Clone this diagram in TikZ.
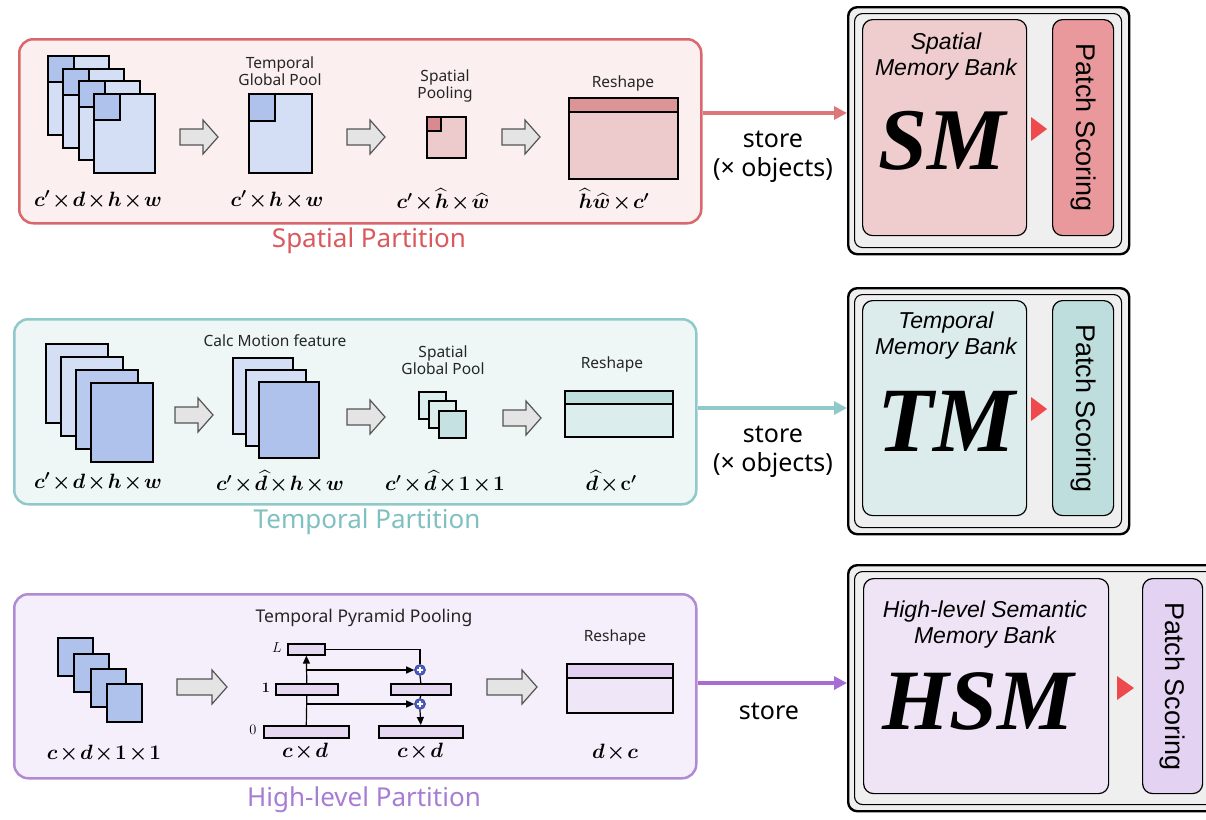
\documentclass[tikz,border=0pt]{standalone}
\usepackage{amsmath,bm}
\usepackage{fontspec}
\setmainfont{Noto Sans}
\newfontfamily\lsans{Liberation Sans}
\newfontfamily\tnr{Liberation Serif}
\newcommand\tightmu{\medmuskip=1.5mu\relax}
\usetikzlibrary{arrows.meta}
\definecolor{redB}{HTML}{D9676B}
\definecolor{redF}{HTML}{FBEFEF}
\definecolor{redT}{HTML}{D9595D}
\definecolor{pinkBody}{HTML}{EDCBCC}
\definecolor{pinkBand}{HTML}{DC9597}
\definecolor{pinkSq}{HTML}{D88A8C}
\definecolor{blueL}{HTML}{D4DEF4}
\definecolor{blueD}{HTML}{AEC2EC}
\definecolor{tealB}{HTML}{90C9C9}
\definecolor{tealF}{HTML}{EEF6F6}
\definecolor{tealT}{HTML}{7FC0C0}
\definecolor{tealBody}{HTML}{DCEDED}
\definecolor{tealBand}{HTML}{BFDEDE}
\definecolor{tealSq}{HTML}{C5E1E1}
\definecolor{purB}{HTML}{B08BD3}
\definecolor{purF}{HTML}{F4EFFA}
\definecolor{purT}{HTML}{A77CD3}
\definecolor{purBox}{HTML}{E6D8F0}
\definecolor{purBand}{HTML}{E2D0F0}
\definecolor{purBody}{HTML}{EFE6F7}
\definecolor{purArr}{HTML}{A66DD4}
\definecolor{arrG}{HTML}{E4E4E4}
\definecolor{arrD}{HTML}{555555}
\definecolor{bankG}{HTML}{EFEFEF}
\definecolor{smF}{HTML}{EFCDCE}
\definecolor{smP}{HTML}{E9999B}
\definecolor{tmF}{HTML}{DCECEC}
\definecolor{tmP}{HTML}{BEDDDD}
\definecolor{hsF}{HTML}{EFE4F6}
\definecolor{hsP}{HTML}{E3D2F1}
\definecolor{triR}{HTML}{EE4A4E}
\definecolor{plusB}{HTML}{4A5BC8}
\begin{document}
\begin{tikzpicture}[x=1pt,y=-1pt,
  panel/.style={rectangle, rounded corners=14pt, line width=2.5pt, anchor=north west, inner sep=0pt},
  ptitle/.style={font=\fontsize{26}{30}\selectfont},
  fr/.style={rectangle, draw=black, line width=2.4pt, anchor=north west, inner sep=0pt},
  pbox/.style={rectangle, draw=black, line width=1.6pt, fill=purBox, anchor=north west, inner sep=0pt},
  lbl/.style={font=\fontsize{15.5}{17}\selectfont, align=center, text=black!85},
  dim/.style={font=\fontsize{19.5}{22}\selectfont\boldmath\tightmu, inner sep=1pt},
  storet/.style={font=\fontsize{25}{29}\selectfont, align=center},
  bankO/.style={rectangle, rounded corners=9pt, draw=black, line width=2.4pt, fill=bankG, anchor=north west, inner sep=0pt},
  bankI/.style={rectangle, rounded corners=8pt, draw=black, line width=1.1pt, anchor=north west, inner sep=0pt},
  memb/.style={rectangle, rounded corners=10pt, draw=black, line width=1.2pt, anchor=north west, inner sep=0pt},
  banklbl/.style={font=\lsans\itshape\fontsize{23}{26}\selectfont, align=center},
  big/.style={font=\tnr\bfseries\itshape\fontsize{88}{88}\selectfont},
  patcht/.style={rotate=-90, font=\lsans\fontsize{27}{30}\selectfont},
  plusc/.style={circle, fill=plusB, draw=plusB!70!black, line width=0.6pt, inner sep=0pt, minimum size=11pt,
    path picture={\draw[white,line width=1.4pt] ([xshift=-3.2pt]path picture bounding box.center) -- ([xshift=3.2pt]path picture bounding box.center) ([yshift=-3.2pt]path picture bounding box.center) -- ([yshift=3.2pt]path picture bounding box.center);}},
  ptip/.style={-{Triangle[length=8pt,width=7pt]}, line width=1.2pt},
  pics/blkarr/.style={code={\draw[fill=arrG, draw=arrD, line width=1.2pt, line join=miter] (0,-8) -- (#1-15,-8) -- (#1-15,-17) -- (#1,0) -- (#1-15,17) -- (#1-15,8) -- (0,8) -- cycle;}}
]
\useasboundingbox (0,0) rectangle (1206,819);
\clip (0,0) rectangle (1206,819);

% ================= TOP: Spatial =================
\node[panel, draw=redB, fill=redF, minimum width=682, minimum height=184] (pS) at (18,38) {};
\node[ptitle, text=redT] (tSp) at (369,241) {Spatial Partition};
\foreach \i/\x/\y in {1/47/55, 2/62/68, 3/78/80, 4/93/93} {
  \node[fr, fill=blueL, minimum width=61, minimum height=79] (sf\i) at (\x,\y) {};
  \node[fr, fill=blueD, minimum width=26, minimum height=26] (sq\i) at (\x,\y) {};
}
\pic at (180,137) {blkarr=38};
\node[lbl] (lTGP) at (280,71) {Temporal\\Global Pool};
\node[fr, fill=blueL, minimum width=63, minimum height=79] (tgp) at (248,93) {};
\node[fr, fill=blueD, minimum width=26, minimum height=27] (tgpq) at (248,93) {};
\pic at (347,137) {blkarr=38};
\node[lbl] (lSP) at (445,86) {Spatial\\Pooling};
\node[fr, fill=pinkBody, minimum width=39, minimum height=41] (sp) at (426,116) {};
\node[fr, fill=pinkSq, minimum width=14, minimum height=14, line width=1.8pt] (spq) at (426,116) {};
\pic at (502,137) {blkarr=38};
\node[lbl] (lRS1) at (623,83) {Reshape};
\node[fr, fill=pinkBody, minimum width=109, minimum height=81] (rs1) at (568,97) {};
\node[fr, fill=pinkBand, minimum width=109, minimum height=14] (rs1b) at (568,97) {};
\node[dim] (d11) at (98,200) {$c'\times d\times h\times w$};
\node[dim] (d12) at (277,200) {$c'\times h\times w$};
\node[dim] (d13) at (443,200) {$c'\times \widehat{h}\times \widehat{w}$};
\node[dim] (d14) at (614,200) {$\widehat{h}\widehat{w}\times c'$};

% bank S
\node[bankO, minimum width=281, minimum height=247] (bS) at (847,6) {};
\node[bankI, minimum width=267, minimum height=234] (bSi) at (854,13) {};
\node[memb, fill=smF, minimum width=164, minimum height=216] (mS) at (862,19) {};
\node[memb, fill=smP, minimum width=61, minimum height=216] (psS) at (1052,19) {};
\node[banklbl] (blS) at (946,57) {Spatial\\Memory Bank};
\node[big] (SM) at (942,141) {SM};
\node[patcht] (ptS) at (psS.center) {Patch Scoring};
\fill[triR] (1031,117) -- (1047,129) -- (1031,141) -- cycle;
\coordinate (aS1) at (pS.east |- 0,113);
\coordinate (aS2) at (bS.west |- 0,113);
\draw[redB!90!white, line width=4pt, -{Triangle[length=13pt,width=13pt]}] (aS1) -- (aS2);
\node[storet] (stS) at (773,157) {store\\(\texttimes{} objects)};

% ================= MIDDLE: Temporal =================
\node[panel, draw=tealB, fill=tealF, minimum width=682, minimum height=185] (pT) at (13,318) {};
\node[ptitle, text=tealT] (tTp) at (367,522) {Temporal Partition};
\foreach \i/\x/\y/\c in {1/45/343/blueL, 2/60/356/blueL, 3/75/369/blueD!70!blueL, 4/90/382/blueD} {
  \node[fr, fill=\c, minimum width=62, minimum height=79] (tf\i) at (\x,\y) {};
}
\pic at (175,415) {blkarr=38};
\node[lbl] (lCM) at (275,341) {Calc Motion feature};
\foreach \i/\x/\y/\c in {1/232/357/blueL, 2/245/369/blueL, 3/258/381/blueD} {
  \node[fr, fill=\c, minimum width=60, minimum height=76] (cm\i) at (\x,\y) {};
}
\pic at (347,417) {blkarr=38};
\node[lbl] (lSG) at (443,360) {Spatial\\Global Pool};
\foreach \i/\x/\y/\c in {1/418/391/tealBody, 2/428/400/tealBody, 3/438/410/tealSq} {
  \node[fr, fill=\c, minimum width=27, minimum height=27, line width=2pt] (sg\i) at (\x,\y) {};
}
\pic at (503,418) {blkarr=38};
\node[lbl] (lRS2) at (612,364) {Reshape};
\node[fr, fill=tealBody, minimum width=108, minimum height=46] (rs2) at (564,390) {};
\node[fr, fill=tealBand, minimum width=108, minimum height=13] (rs2b) at (564,390) {};
\node[dim] (d21) at (98,482) {$c'\times d\times h\times w$};
\node[dim] (d22) at (280,482) {$c'\times \widehat{d}\times h\times w$};
\node[dim] (d23) at (445,482) {$c'\times \widehat{d}\times 1\times 1$};
\node[dim] (d24) at (611,482) {$\widehat{d}\times \mathbf{c}'$};

% bank T
\node[bankO, minimum width=281, minimum height=246] (bT) at (847,287) {};
\node[bankI, minimum width=267, minimum height=233] (bTi) at (854,294) {};
\node[memb, fill=tmF, minimum width=164, minimum height=215] (mT) at (862,300) {};
\node[memb, fill=tmP, minimum width=61, minimum height=215] (psT) at (1052,300) {};
\node[banklbl] (blT) at (946,336) {Temporal\\Memory Bank};
\node[big, font=\tnr\bfseries\itshape\fontsize{92}{92}\selectfont] (TM) at (946,421) {TM};
\node[patcht] (ptT) at (psT.center) {Patch Scoring};
\fill[triR] (1031,397) -- (1047,409) -- (1031,421) -- cycle;
\coordinate (aT1) at (pT.east |- 0,408);
\coordinate (aT2) at (bT.west |- 0,408);
\draw[tealB, line width=4pt, -{Triangle[length=13pt,width=13pt]}] (aT1) -- (aT2);
\node[storet] (stT) at (773,452) {store\\(\texttimes{} objects)};

% ================= BOTTOM: High-level =================
\node[panel, draw=purB, fill=purF, minimum width=682, minimum height=184] (pH) at (13,593) {};
\node[ptitle, text=purT] (tHp) at (364,800) {High-level Partition};
\foreach \i/\x/\y in {1/57/637, 2/73/653, 3/90/668, 4/106/683} {
  \node[fr, fill=blueD, minimum width=35, minimum height=38] (hf\i) at (\x,\y) {};
}
\node[dim] (d31) at (104,754) {$c\times d\times 1\times 1$};
\pic at (177,687) {blkarr=50};
\node[lbl, font=\fontsize{17.5}{20}\selectfont] (lTPP) at (364,618) {Temporal Pyramid Pooling};
\node[pbox, minimum width=37, minimum height=11] (pL) at (287,643) {};
\node[pbox, minimum width=62, minimum height=11] (p1) at (275,683) {};
\node[pbox, minimum width=85, minimum height=12] (p0) at (263,725) {};
\node[pbox, minimum width=60, minimum height=11] (q1) at (390,683) {};
\node[pbox, minimum width=84, minimum height=12] (q0) at (378,725) {};
\node[plusc] (c1) at (420,670) {};
\node[plusc] (c2) at (420,704) {};
\node[font=\fontsize{15}{17}\selectfont] (nL) at (277,648) {$L$};
\node[font=\fontsize{15}{17}\selectfont\boldmath] (n1) at (266,688) {$1$};
\node[font=\fontsize{15}{17}\selectfont] (n0) at (253,730) {$0$};
\draw[line width=1.2pt] (p0.north) -- (p1.south);
\draw[ptip] (p1.north) -- (pL.south);
\draw[ptip] (pL.south |- c1) -- (c1.west);
\draw[ptip] (p1.south |- c2) -- (c2.west);
\draw[line width=1.2pt] (pL.east) -| (c1.north);
\draw[line width=1.2pt] (c1.south) -- (q1.north);
\draw[line width=1.2pt] (q1.south) -- (c2.north);
\draw[ptip] (c2.south) -- (q0.north);
\node[dim] (d32) at (305,752) {$c\times d$};
\node[dim] (d33) at (420,752) {$c\times d$};
\pic at (487,687) {blkarr=50};
\node[lbl] (lRS3) at (615,637) {Reshape};
\node[fr, fill=purBody, minimum width=106, minimum height=49] (rs3) at (566,663) {};
\node[fr, fill=purBand, minimum width=106, minimum height=14] (rs3b) at (566,663) {};
\node[dim] (d34) at (615,753) {$d\times c$};

% bank H
\node[bankO, minimum width=370, minimum height=246] (bH) at (847,564) {};
\node[bankI, minimum width=360, minimum height=233] (bHi) at (854,571) {};
\node[memb, fill=hsF, minimum width=245, minimum height=215] (mH) at (863,578) {};
\node[memb, fill=hsP, minimum width=60, minimum height=215] (psH) at (1142,578) {};
\node[banklbl] (blH) at (985,625) {High-level Semantic\\Memory Bank};
\node[big, font=\tnr\bfseries\itshape\fontsize{86}{86}\selectfont] (HSM) at (978,701) {HSM};
\node[patcht] (ptH) at (psH.center) {Patch Scoring};
\fill[triR] (1117,676) -- (1134,688) -- (1117,700) -- cycle;
\coordinate (aH1) at (pH.east |- 0,683);
\coordinate (aH2) at (bH.west |- 0,683);
\draw[purArr, line width=4pt, -{Triangle[length=13pt,width=13pt]}] (aH1) -- (aH2);
\node[storet] (stH) at (769,711) {store};
\end{tikzpicture}
\end{document}
